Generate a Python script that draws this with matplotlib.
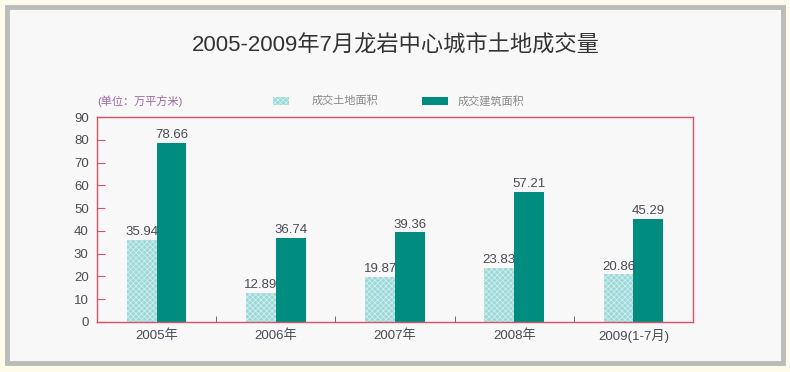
import matplotlib.pyplot as plt
from matplotlib.patches import Rectangle
import numpy as np

plt.rcParams['font.family'] = ['Liberation Sans', 'Noto Sans CJK SC']
plt.rcParams['hatch.linewidth'] = 0.6

years = ['2005年', '2006年', '2007年', '2008年', '2009(1-7月)']
land_area = [35.94, 12.89, 19.87, 23.83, 20.86]      # 成交土地面积
build_area = [78.66, 36.74, 39.36, 57.21, 45.29]     # 成交建筑面积
legend_labels = ['成交土地面积', '成交建筑面积']

light = '#9ed8d8'
dark = '#008c7e'
red = '#d65468'
txt = '#4a4a55'

fig = plt.figure(figsize=(7.9, 3.72), dpi=100)
fig.patch.set_facecolor('#fffbea')
# gray frame round the panel
fig.add_artist(Rectangle((7/790, 9/372), 776/790, 356/372, transform=fig.transFigure,
                         facecolor='#f8f8f8', edgecolor='#b9bcb9', lw=3.5, zorder=0))

ax = fig.add_axes([97/790, 1-322/372, 596/790, 205/372])
ax.set_facecolor('#f8f8f8')

x = np.arange(len(years))
w = 0.25
ax.bar(x - w/2, land_area, w, color=light, edgecolor='#cdeeee', lw=0, hatch='xxxxxx')
ax.bar(x + w/2, build_area, w, color=dark, lw=0)

for xi, v in zip(x, land_area):
    ax.text(xi - w/2, v + 0.8, f'{v:.2f}', ha='center', va='bottom', fontsize=9.5, color=txt)
for xi, v in zip(x, build_area):
    ax.text(xi + w/2, v + 0.8, f'{v:.2f}', ha='center', va='bottom', fontsize=9.5, color=txt)

ax.set_xlim(-0.5, 4.5)
ax.set_ylim(0, 90)
ax.set_yticks(range(0, 91, 10))
ax.set_xticks(x)
ax.set_xticklabels(years)
ax.set_xticks(x[:-1] + 0.5, minor=True)
ax.tick_params(axis='y', direction='in', length=6, color=red, labelsize=9.5, labelcolor=txt, pad=6)
ax.tick_params(axis='x', which='major', length=0, labelsize=9.5, labelcolor=txt, pad=5)
ax.tick_params(axis='x', which='minor', direction='in', length=4, color='#555555')
for s in ax.spines.values():
    s.set_color(red)
    s.set_linewidth(1.0)

fig.text(0.501, 1-45/372, '2005-2009年7月龙岩中心城市土地成交量', ha='center', va='center',
         fontsize=16, color='#333333')
fig.text(97/790, 1-101/372, '(单位：万平方米)', ha='left', va='center', fontsize=8, color='#9a6aa0')

# legend drawn by hand above the axes
fig.add_artist(Rectangle((273/790, 1-105/372), 16/790, 8/372, transform=fig.transFigure,
                         facecolor=light, edgecolor='#cdeeee', lw=0, hatch='xxxxxx'))
fig.text(312/790, 1-101/372, legend_labels[0], ha='left', va='center', fontsize=8, color='#888888')
fig.add_artist(Rectangle((422/790, 1-105/372), 26/790, 8/372, transform=fig.transFigure,
                         facecolor=dark, lw=0))
fig.text(458/790, 1-101/372, legend_labels[1], ha='left', va='center', fontsize=8, color='#888888')

fig.savefig('out.png', dpi=100, facecolor=fig.get_facecolor())
